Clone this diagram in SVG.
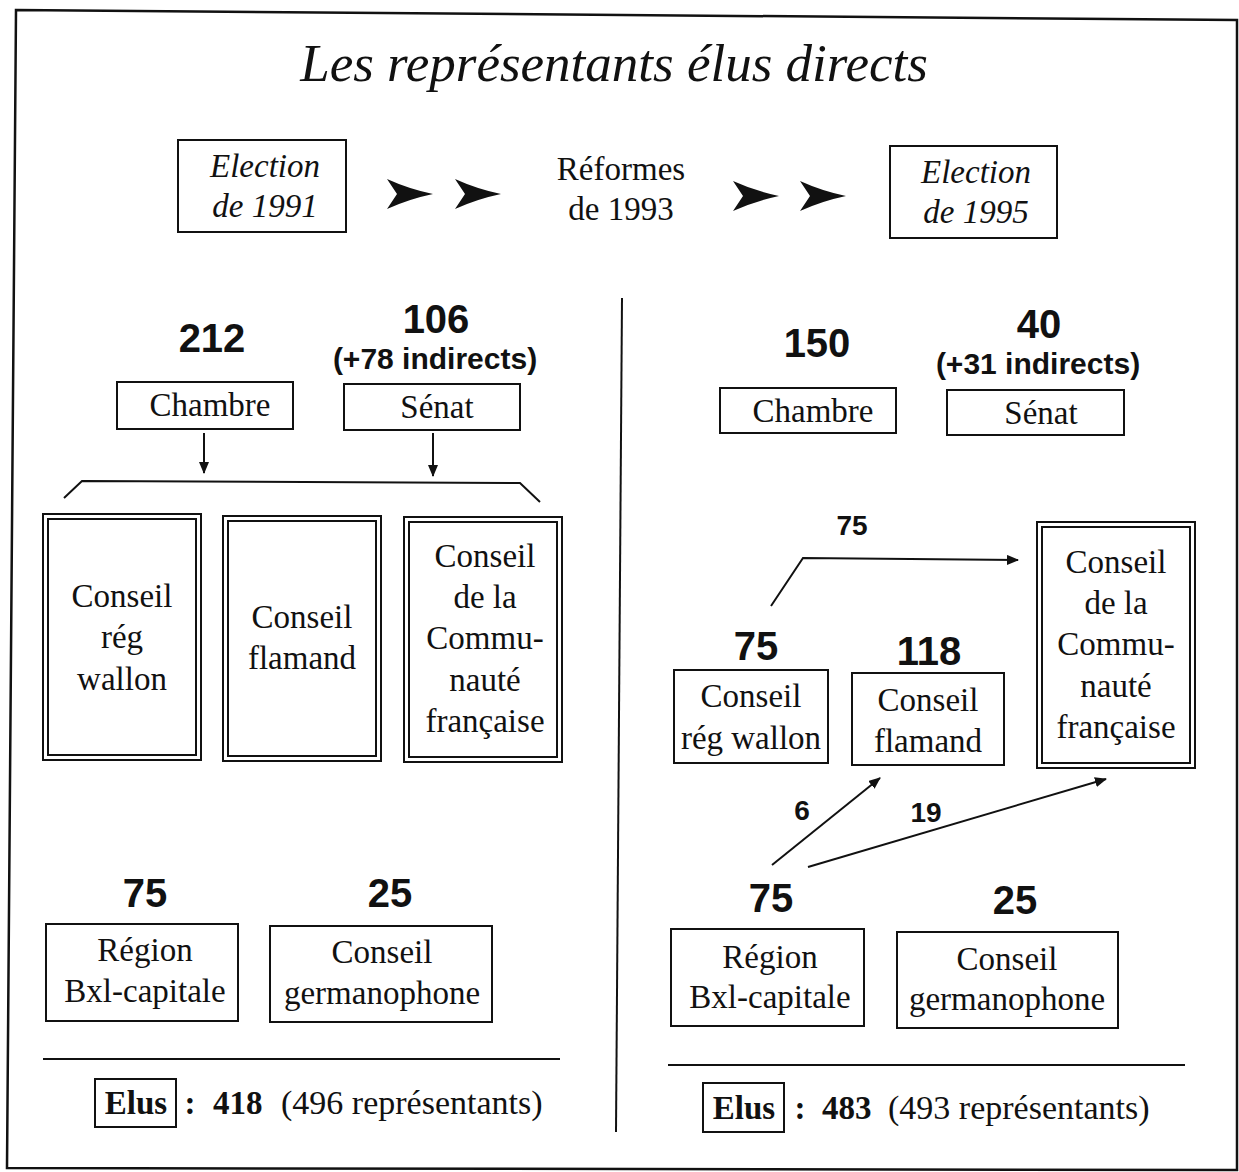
<svg xmlns="http://www.w3.org/2000/svg" width="1239" height="1172" viewBox="0 0 1239 1172">
<defs>
<style>
.s{font-family:"Liberation Serif","Times New Roman",serif;font-size:33px;fill:#111;text-anchor:middle}
.i{font-style:italic}
.b{font-family:"Liberation Sans",Arial,sans-serif;font-weight:bold;fill:#111;text-anchor:middle}
.box{fill:#fff;stroke:#111;stroke-width:2}
.ln{fill:none;stroke:#111;stroke-width:2}
.st{text-anchor:start}
</style>
<marker id="ah" viewBox="0 0 12 10" refX="11" refY="5" markerWidth="12" markerHeight="10" markerUnits="userSpaceOnUse" orient="auto">
<path d="M0,0 L12,5 L0,10 Z" fill="#111"/>
</marker>
<path id="chev" d="M0,-15 Q22,-5 46,0 Q22,5 0,15 L10,0 Z" fill="#111"/>
</defs>
<rect x="0" y="0" width="1239" height="1172" fill="#fff"/>
<path d="M16,10 L1237,20 L1237,1170 L7,1168 Z" fill="none" stroke="#111" stroke-width="2.5"/>
<text class="s i" x="614" y="81" style="font-size:53px">Les représentants élus directs</text>

<g id="election1991">
<rect class="box" x="178" y="140" width="168" height="92"/>
<text class="s i" x="265" y="177">Election</text>
<text class="s i" x="265" y="217">de 1991</text>
</g>
<g id="reformes1993">
<text class="s" x="621" y="180">Réformes</text>
<text class="s" x="621" y="220">de 1993</text>
</g>
<g id="election1995">
<rect class="box" x="890" y="146" width="167" height="92"/>
<text class="s i" x="976" y="183">Election</text>
<text class="s i" x="976" y="223">de 1995</text>
</g>

<path d="M622,298 L616,1132" class="ln"/>

<g id="l-chambre">
<text class="b" x="212" y="352" style="font-size:40px">212</text>
<rect class="box" x="117" y="382" width="176" height="47"/>
<text class="s" x="210" y="416">Chambre</text>
</g>
<g id="l-senat">
<text class="b" x="436" y="333" style="font-size:40px">106</text>
<text class="b" x="435" y="369" style="font-size:30px">(+78 indirects)</text>
<rect class="box" x="344" y="384" width="176" height="46"/>
<text class="s" x="437" y="418">Sénat</text>
</g>
<g id="l-wallon">
<rect class="box" x="43" y="514" width="158" height="246"/>
<rect class="box" x="48" y="519" width="148" height="236"/>
<text class="s" x="122" y="607">Conseil</text>
<text class="s" x="122" y="648">rég</text>
<text class="s" x="122" y="690">wallon</text>
</g>
<g id="l-flamand">
<rect class="box" x="223" y="516" width="158" height="245"/>
<rect class="box" x="228" y="521" width="148" height="235"/>
<text class="s" x="302" y="628">Conseil</text>
<text class="s" x="302" y="669">flamand</text>
</g>
<g id="l-cf">
<rect class="box" x="404" y="517" width="158" height="245"/>
<rect class="box" x="409" y="522" width="148" height="235"/>
<text class="s" x="485" y="567">Conseil</text>
<text class="s" x="485" y="608">de la</text>
<text class="s" x="485" y="649">Commu-</text>
<text class="s" x="485" y="691">nauté</text>
<text class="s" x="485" y="732">française</text>
</g>
<g id="l-bxl">
<text class="b" x="145" y="907" style="font-size:40px">75</text>
<rect class="box" x="46" y="924" width="192" height="97"/>
<text class="s" x="145" y="961">Région</text>
<text class="s" x="145" y="1002">Bxl-capitale</text>
</g>
<g id="l-germ">
<text class="b" x="390" y="907" style="font-size:40px">25</text>
<rect class="box" x="270" y="926" width="222" height="96"/>
<text class="s" x="382" y="963">Conseil</text>
<text class="s" x="382" y="1004">germanophone</text>
</g>
<path d="M43,1059 L560,1059" class="ln"/>
<g id="l-elus">
<rect class="box" x="95" y="1079" width="81" height="48"/>
<text class="s" x="136" y="1114" font-weight="bold">Elus</text>
<text class="s" x="190" y="1114" font-weight="bold">:</text>
<text class="s st" x="213" y="1114" font-weight="bold">418</text>
<text class="s st" x="281" y="1114" style="font-size:34px">(496 représentants)</text>
</g>

<g id="r-chambre">
<text class="b" x="817" y="357" style="font-size:40px">150</text>
<rect class="box" x="720" y="388" width="176" height="45"/>
<text class="s" x="813" y="422">Chambre</text>
</g>
<g id="r-senat">
<text class="b" x="1039" y="338" style="font-size:40px">40</text>
<text class="b" x="1038" y="374" style="font-size:30px">(+31 indirects)</text>
<rect class="box" x="947" y="390" width="177" height="45"/>
<text class="s" x="1041" y="424">Sénat</text>
</g>
<g id="r-cf">
<rect class="box" x="1037" y="522" width="158" height="246"/>
<rect class="box" x="1042" y="527" width="148" height="236"/>
<text class="s" x="1116" y="573">Conseil</text>
<text class="s" x="1116" y="614">de la</text>
<text class="s" x="1116" y="655">Commu-</text>
<text class="s" x="1116" y="697">nauté</text>
<text class="s" x="1116" y="738">française</text>
</g>
<g id="r-wallon">
<text class="b" x="756" y="660" style="font-size:40px">75</text>
<rect class="box" x="674" y="670" width="154" height="93"/>
<text class="s" x="751" y="707">Conseil</text>
<text class="s" x="751" y="749">rég wallon</text>
</g>
<g id="r-flamand">
<text class="b" x="929" y="665" style="font-size:40px">118</text>
<rect class="box" x="852" y="673" width="152" height="92"/>
<text class="s" x="928" y="711">Conseil</text>
<text class="s" x="928" y="752">flamand</text>
</g>
<g id="r-bxl">
<text class="b" x="771" y="912" style="font-size:40px">75</text>
<rect class="box" x="671" y="929" width="193" height="97"/>
<text class="s" x="770" y="968">Région</text>
<text class="s" x="770" y="1008">Bxl-capitale</text>
</g>
<g id="r-germ">
<text class="b" x="1015" y="914" style="font-size:40px">25</text>
<rect class="box" x="897" y="932" width="221" height="96"/>
<text class="s" x="1007" y="970">Conseil</text>
<text class="s" x="1007" y="1010">germanophone</text>
</g>
<path d="M668,1065 L1185,1065" class="ln"/>
<g id="r-elus">
<rect class="box" x="703" y="1083" width="81" height="49"/>
<text class="s" x="744" y="1119" font-weight="bold">Elus</text>
<text class="s" x="800" y="1119" font-weight="bold">:</text>
<text class="s st" x="822" y="1119" font-weight="bold">483</text>
<text class="s st" x="888" y="1119" style="font-size:34px">(493 représentants)</text>
</g>

<g id="connectors">
<use href="#chev" x="387" y="194"/>
<use href="#chev" x="455" y="194"/>
<use href="#chev" x="733" y="196"/>
<use href="#chev" x="800" y="196"/>
<path d="M204,433 L204,473" class="ln" marker-end="url(#ah)"/>
<path d="M433,433 L433,476" class="ln" marker-end="url(#ah)"/>
<path d="M64,498 L82,481 L520,483 L540,502" class="ln"/>
<path d="M771,606 L803,558 L1018,560" class="ln" marker-end="url(#ah)"/>
<text class="b" x="852" y="535" style="font-size:28px">75</text>
<path d="M772,865 L880,778" class="ln" marker-end="url(#ah)"/>
<text class="b" x="802" y="820" style="font-size:28px">6</text>
<path d="M808,867 L1106,779" class="ln" marker-end="url(#ah)"/>
<text class="b" x="926" y="822" style="font-size:28px">19</text>
</g>
</svg>
